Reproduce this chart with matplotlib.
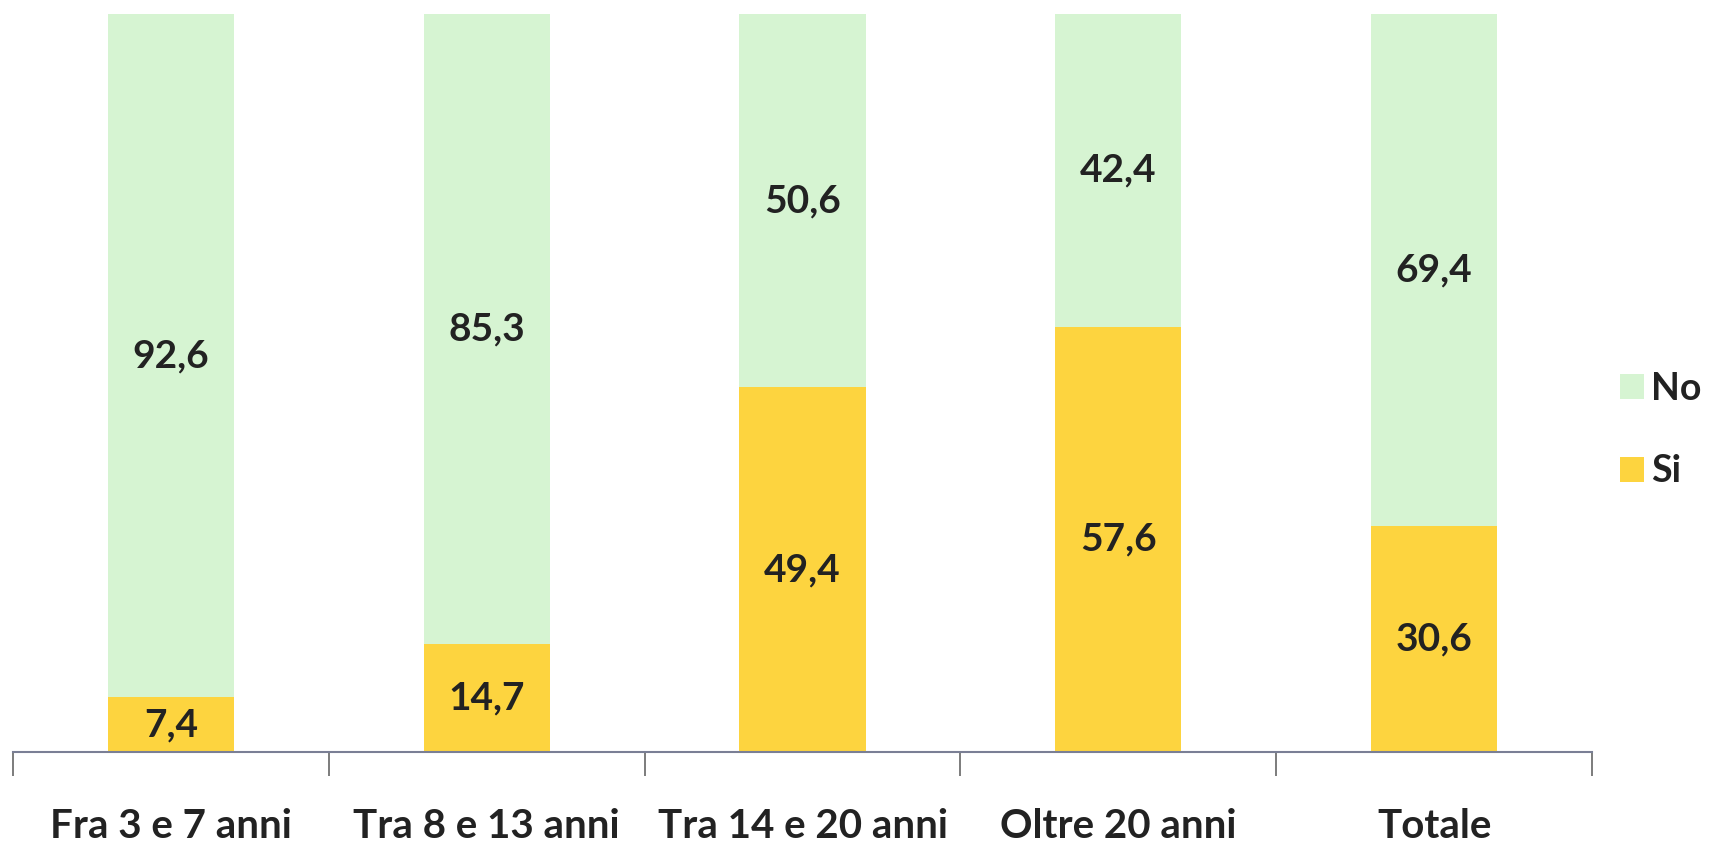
import matplotlib
matplotlib.use("Agg")
import matplotlib.pyplot as plt
import numpy as np

categories = ["Fra 3 e 7 anni", "Tra 8 e 13 anni", "Tra 14 e 20 anni", "Oltre 20 anni", "Totale"]
si_values = [7.4, 14.7, 49.4, 57.6, 30.6]
no_values = [92.6, 85.3, 50.6, 42.4, 69.4]

color_si = "#fdd43f"
color_no = "#d6f4d2"

plt.rcParams["font.family"] = ["Lato", "DejaVu Sans"]

W, H = 1716, 849
fig = plt.figure(figsize=(W / 100, H / 100), dpi=100)
ax = fig.add_axes([13 / W, (H - 752) / H, (1592 - 13) / W, (752 - 14) / H])

x = np.arange(len(categories))
bw = 0.4
b_si = ax.bar(x, si_values, width=bw, color=color_si, label="Si")
b_no = ax.bar(x, no_values, width=bw, bottom=si_values, color=color_no, label="No")

def fmt(v):
    return f"{v:.1f}".replace(".", ",")

for xi, s, n in zip(x, si_values, no_values):
    ax.text(xi, s / 2, fmt(s), ha="center", va="center", fontsize=28,
            fontweight="bold", color="#222222")
    ax.text(xi, s + n / 2, fmt(n), ha="center", va="center", fontsize=28,
            fontweight="bold", color="#222222")

ax.set_xlim(-0.5, len(categories) - 0.5)
ax.set_ylim(0, 100)
for side in ["top", "right", "left"]:
    ax.spines[side].set_visible(False)
ax.spines["bottom"].set_color("#7a7f95")
ax.spines["bottom"].set_linewidth(1.5)
ax.set_yticks([])

ax.set_xticks(np.arange(-0.5, len(categories), 1.0))
ax.set_xticklabels([])
ax.tick_params(axis="x", which="major", length=17, width=1.2, color="#666666")
ax.set_xticks(x, minor=True)
ax.set_xticklabels(categories, minor=True, fontsize=29, fontweight="bold", color="#222222")
ax.tick_params(axis="x", which="minor", length=0, pad=40)

handles = [b_no, b_si]
leg = fig.legend(handles, ["No", "Si"], loc="center left",
                 bbox_to_anchor=(1612 / W, 1 - 430 / H), frameon=False,
                 fontsize=27, handlelength=0.65, handleheight=0.65,
                 handletextpad=0.2, labelspacing=1.3, borderpad=0.2,
                 borderaxespad=0.0)
for t in leg.get_texts():
    t.set_fontweight("bold")
    t.set_color("#222222")

fig.savefig("out.png", dpi=100, facecolor="white")
